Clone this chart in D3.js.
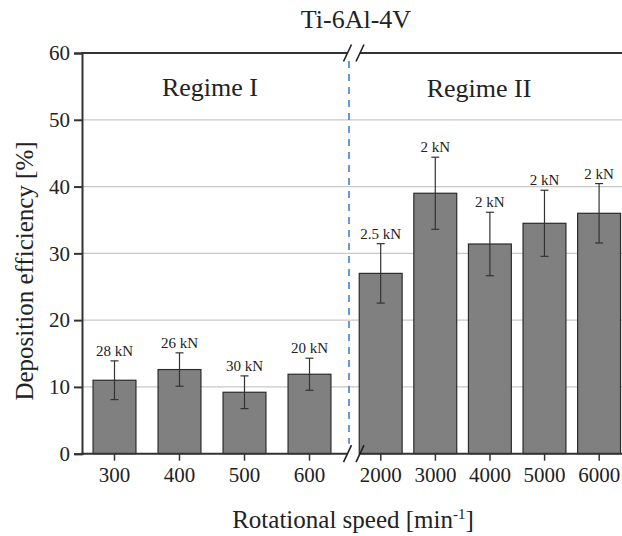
<!DOCTYPE html>
<html>
<head>
<meta charset="utf-8">
<script src="https://cdn.jsdelivr.net/npm/d3@7"></script>
<style>
  html, body { margin: 0; padding: 0; background: #fff; }
  svg text { font-family: "Times New Roman", "Liberation Serif", Tinos, "DejaVu Serif", serif !important; fill: #222; }
</style>
</head>
<body>
<svg id="chart"></svg>
<script>
const width = 622;
const height = 536;
const margin = { top: 53, right: 0, bottom: 82, left: 82 };
const serif = '"Times New Roman", "Liberation Serif", Tinos, "DejaVu Serif", serif';

// data
const speeds = ["300", "400", "500", "600", "2000", "3000", "4000", "5000", "6000"];
const regimes = ["I", "I", "I", "I", "II", "II", "II", "II", "II"];
const efficiency = [11.0, 12.6, 9.2, 11.9, 27.0, 39.0, 31.4, 34.5, 36.0];
const errors = [2.9, 2.5, 2.45, 2.4, 4.45, 5.4, 4.75, 4.95, 4.45];
const forces = ["28 kN", "26 kN", "30 kN", "20 kN", "2.5 kN", "2 kN", "2 kN", "2 kN", "2 kN"];
const yTicks = [0, 10, 20, 30, 40, 50, 60];

const data = speeds.map((s, i) => ({
    speed: s, regime: regimes[i], value: efficiency[i], err: errors[i], force: forces[i]
}));

const svg = d3.select("#chart")
    .attr("width", width)
    .attr("height", height)
    .attr("font-family", serif);

const breakX = 353.5;

const x1 = d3.scaleBand()
    .domain(data.filter(d => d.regime === "I").map(d => d.speed))
    .range([margin.left, margin.left + 260])
    .paddingInner(0.34)
    .paddingOuter(0.17);

const x2 = d3.scaleBand()
    .domain(data.filter(d => d.regime === "II").map(d => d.speed))
    .range([breakX, breakX + 273])
    .paddingInner(0.21)
    .paddingOuter(0.105);

const xOf = d => d.regime === "I" ? x1(d.speed) : x2(d.speed);
const bw = x1.bandwidth();

const y = d3.scaleLinear()
    .domain([0, 60])
    .range([height - margin.bottom - 0.3, margin.top]);

const right = width - margin.right;

// gridlines
svg.append("g")
    .selectAll("line")
    .data(yTicks.filter(t => t > 0 && t < 60))
    .join("line")
    .attr("x1", margin.left).attr("x2", right)
    .attr("y1", d => y(d)).attr("y2", d => y(d))
    .attr("stroke", "#c8c8c8")
    .attr("stroke-width", 1.2);

// dashed regime separator
svg.append("line")
    .attr("x1", 349).attr("x2", 349)
    .attr("y1", y(58.8)).attr("y2", y(1.5))
    .attr("stroke", "#3f7fd0")
    .attr("stroke-width", 1.6)
    .attr("stroke-dasharray", "7,6");

// bars
svg.append("g")
    .selectAll("rect")
    .data(data)
    .join("rect")
    .attr("x", d => xOf(d))
    .attr("width", bw)
    .attr("y", d => y(d.value))
    .attr("height", d => y(0) - y(d.value))
    .attr("fill", "#808080")
    .attr("stroke", "#2b2b2b")
    .attr("stroke-width", 1.2);

// error bars
const eb = svg.append("g").attr("stroke", "#333").attr("stroke-width", 1.2);
data.forEach(d => {
    const cx = xOf(d) + bw / 2;
    eb.append("line").attr("x1", cx).attr("x2", cx)
        .attr("y1", y(d.value + d.err)).attr("y2", y(d.value - d.err));
    eb.append("line").attr("x1", cx - 4).attr("x2", cx + 4)
        .attr("y1", y(d.value + d.err)).attr("y2", y(d.value + d.err));
    eb.append("line").attr("x1", cx - 4).attr("x2", cx + 4)
        .attr("y1", y(d.value - d.err)).attr("y2", y(d.value - d.err));
});

// force labels
svg.append("g")
    .selectAll("text")
    .data(data)
    .join("text")
    .attr("x", d => xOf(d) + bw / 2)
    .attr("y", d => y(d.value + d.err) - 5)
    .attr("text-anchor", "middle")
    .style("font-size", "15px")
    .text(d => d.force);

// axes: left
const yAxis = svg.append("g")
    .attr("transform", `translate(${margin.left}, 0)`)
    .call(d3.axisLeft(y).tickValues(yTicks).tickSize(8).tickPadding(4).tickFormat(d3.format("d")));
yAxis.attr("font-family", serif);
yAxis.selectAll("path, line").attr("stroke", "#333").attr("stroke-width", 2);
yAxis.selectAll("text").style("font-size", "21px").attr("fill", "#222");

// bottom axis: ticks from both scales
const xAxis1 = svg.append("g")
    .attr("transform", `translate(0, ${y(0)})`)
    .call(d3.axisBottom(x1).tickSize(7).tickPadding(6).tickSizeOuter(0));
const xAxis2 = svg.append("g")
    .attr("transform", `translate(0, ${y(0)})`)
    .call(d3.axisBottom(x2).tickSize(7).tickPadding(6).tickSizeOuter(0));
[xAxis1, xAxis2].forEach(ax => {
    ax.attr("font-family", serif);
    ax.select(".domain").remove();
    ax.selectAll("line").attr("stroke", "#333").attr("stroke-width", 1.5);
    ax.selectAll("text").style("font-size", "21px").attr("fill", "#222");
});

// frame lines (bottom and top) with the axis break
const gapL = 347.5, gapR = 360;
[0, 60].forEach(v => {
    const yy = y(v);
    svg.append("line").attr("x1", margin.left - 1).attr("x2", gapL)
        .attr("y1", yy).attr("y2", yy).attr("stroke", "#333").attr("stroke-width", 2);
    svg.append("line").attr("x1", gapR).attr("x2", right)
        .attr("y1", yy).attr("y2", yy).attr("stroke", "#333").attr("stroke-width", 2);
    [gapL, gapR].forEach(gx => {
        svg.append("line")
            .attr("x1", gx - 4).attr("x2", gx + 4)
            .attr("y1", yy + 8.5).attr("y2", yy - 8.5)
            .attr("stroke", "#222").attr("stroke-width", 1.6);
    });
});

// titles
svg.append("text")
    .attr("x", 356).attr("y", 28)
    .attr("text-anchor", "middle")
    .style("font-size", "26px")
    .text("Ti-6Al-4V");

svg.append("text")
    .attr("x", 210).attr("y", 96)
    .attr("text-anchor", "middle")
    .style("font-size", "26px")
    .text("Regime I");

svg.append("text")
    .attr("x", 479).attr("y", 97)
    .attr("text-anchor", "middle")
    .style("font-size", "26px")
    .text("Regime II");

const xt = svg.append("text")
    .attr("x", 353).attr("y", 528)
    .attr("text-anchor", "middle")
    .style("font-size", "25px");
xt.append("tspan").text("Rotational speed [min");
xt.append("tspan").attr("dy", -9).style("font-size", "15px").text("-1");
xt.append("tspan").attr("dy", 9).text("]");

svg.append("text")
    .attr("transform", "rotate(-90)")
    .attr("x", -271).attr("y", 33)
    .attr("text-anchor", "middle")
    .style("font-size", "25px")
    .text("Deposition efficiency [%]");
</script>
</body>
</html>
